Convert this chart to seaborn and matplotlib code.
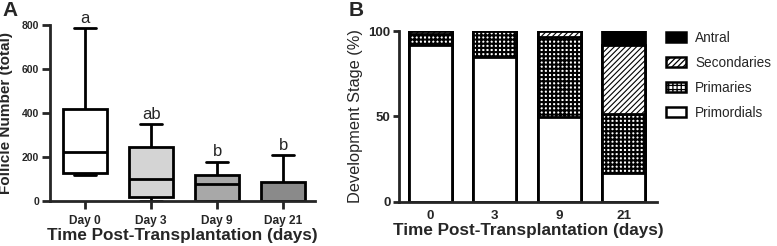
import numpy as np
import pandas as pd
import matplotlib
matplotlib.use("Agg")
import matplotlib.pyplot as plt
import seaborn as sns
from matplotlib.patches import Patch

# ---------------- data ----------------
days_a = ["Day 0", "Day 3", "Day 9", "Day 21"]
# five-number summaries (min, Q1, median, Q3, max)
day0 = [120, 126, 224, 418, 785]
day3 = [0, 20, 100, 247, 350]
day9 = [0, 0, 77, 120, 179]
day21 = [0, 0, 0, 85, 209]
sig_letters = ["a", "ab", "b", "b"]
box_colors = ["#ffffff", "#d4d4d4", "#a8a8a8", "#8a8a8a"]

days_b = ["0", "3", "9", "21"]
primordials = [92.0, 85.0, 49.5, 17.0]
primaries = [6.5, 15.0, 47.0, 34.5]
secondaries = [1.5, 0.0, 3.5, 40.5]
antral = [0.0, 0.0, 0.0, 8.0]

sns.set_theme(style="ticks")
plt.rcParams["font.family"] = ["Liberation Sans", "DejaVu Sans"]
plt.rcParams["hatch.linewidth"] = 0.9

fig = plt.figure(figsize=(7.77, 2.46), dpi=100)
axA = fig.add_axes([50/777, 45/246, 265/777, 176/246])
axB = fig.add_axes([399/777, 44.5/246, 258/777, 170.5/246])

# ---------------- panel A ----------------
df_a = pd.DataFrame({
    "day": np.repeat(days_a, 5),
    "count": day0 + day3 + day9 + day21,
})
sns.boxplot(data=df_a, x="day", y="count", hue="day", order=days_a,
            hue_order=days_a, palette=box_colors, whis=(0, 100),
            width=0.67, linewidth=2, linecolor="black", fliersize=0,
            legend=False, ax=axA)
axA.set_ylim(0, 800)
axA.set_xlim(-0.53, 3.48)
axA.set_yticks([0, 200, 400, 600, 800])
axA.set_xlabel("Time Post-Transplantation (days)", fontsize=12.3, fontweight="bold", labelpad=1)
axA.set_ylabel("Follicle Number (total)", fontsize=11, fontweight="bold", labelpad=6)
maxes = [max(v) for v in (day0, day3, day9, day21)]
for i, (lab, m) in enumerate(zip(sig_letters, maxes)):
    axA.text(i, m + 10, lab, ha="center", va="bottom", fontsize=12)
for s in ["top", "right"]:
    axA.spines[s].set_visible(False)
for s in ["left", "bottom"]:
    axA.spines[s].set_linewidth(2)
axA.tick_params(axis="both", width=2, length=6)
axA.tick_params(axis="y", labelsize=7.5, pad=2)
axA.tick_params(axis="x", labelsize=8.6, pad=4)
for t in axA.get_xticklabels() + axA.get_yticklabels():
    t.set_fontweight("bold")

# ---------------- panel B ----------------
layers = [
    ("Antral", antral, "black", "", 0.9),
    ("Secondaries", secondaries, "white", "//////", 0.8),
    ("Primaries", primaries, "white", "++++", 1.5),
    ("Primordials", primordials, "white", "", 0.9),
]
stack = np.array([primordials, primaries, secondaries, antral])
cums = np.cumsum(stack, axis=0)  # cumulative from bottom
cum_by_name = {"Primordials": cums[0], "Primaries": cums[1],
               "Secondaries": cums[2], "Antral": cums[3]}
handles = []
for name, vals, col, hatch, hlw in layers:
    with plt.rc_context({"hatch.linewidth": hlw}):
        n_before = len(axB.patches)
        df_b = pd.DataFrame({"day": days_b, "pct": cum_by_name[name]})
        sns.barplot(data=df_b, x="day", y="pct", order=days_b, color=col,
                    edgecolor="black", linewidth=2, width=0.67, saturation=1,
                    errorbar=None, ax=axB)
        for p in axB.patches[n_before:]:
            p.set_hatch(hatch)
            p.set_facecolor(col)
            if hasattr(p, "set_hatch_linewidth"):
                p.set_hatch_linewidth(hlw)
        h = Patch(facecolor=col, edgecolor="black", hatch=hatch,
                  linewidth=1.8, label=name)
        if hasattr(h, "set_hatch_linewidth"):
            h.set_hatch_linewidth(hlw)
        handles.append(h)
axB.set_ylim(0, 100)
axB.set_xlim(-0.49, 3.52)
axB.set_yticks([0, 50, 100])
axB.set_xlabel("Time Post-Transplantation (days)", fontsize=12.3, fontweight="bold", labelpad=1)
axB.set_ylabel("Development Stage (%)", fontsize=11.8, fontweight="normal", labelpad=4)
for s in ["top", "right"]:
    axB.spines[s].set_visible(False)
for s in ["left", "bottom"]:
    axB.spines[s].set_linewidth(2)
axB.tick_params(axis="y", width=2, length=4, labelsize=9.5, pad=2)
axB.tick_params(axis="x", length=0, labelsize=9.7, pad=6)
for t in axB.get_xticklabels() + axB.get_yticklabels():
    t.set_fontweight("bold")
axB.legend(handles=handles, loc="upper left", bbox_to_anchor=(1.035, 1.0),
           frameon=False, fontsize=9.8, handlelength=1.45, handleheight=0.75,
           labelspacing=0.8, handletextpad=0.7, borderaxespad=0, borderpad=0)

fig.text(2/777, 1 - 1/246, "A", fontsize=15, fontweight="bold", va="top", ha="left")
fig.text(349/777, 1 - 1/246, "B", fontsize=15, fontweight="bold", va="top", ha="left")

fig.savefig("out.png", dpi=100)
